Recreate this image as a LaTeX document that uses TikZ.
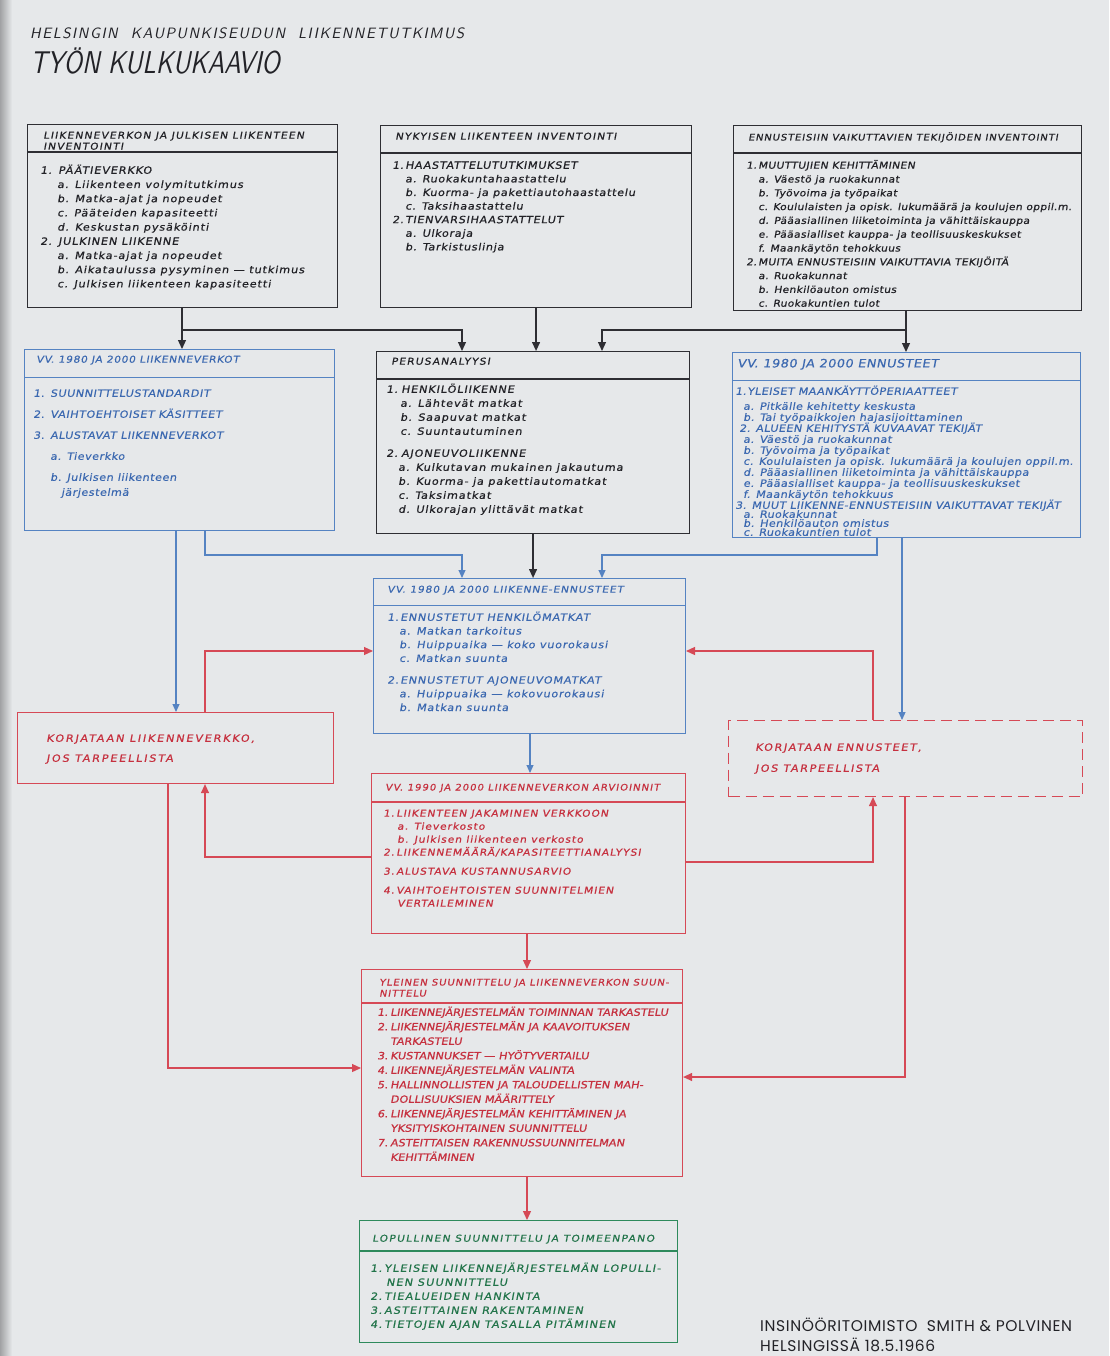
\documentclass[tikz,border=0pt]{standalone}
\usepackage{fontspec}
\setmainfont{DejaVu Sans}[FakeSlant=0.18, FakeStretch=1.12]
\newfontfamily\titlefont{lmsans10-regular.otf}[FakeSlant=0.2]
\newfontfamily\sigfont{Poppins}
\usetikzlibrary{arrows.meta}
\definecolor{paper}{HTML}{E6E8EA}
\definecolor{ink}{HTML}{2E2E33}
\definecolor{inkt}{HTML}{222227}
\definecolor{bl}{HTML}{5583C2}
\definecolor{blt}{HTML}{3B68B0}
\definecolor{rd}{HTML}{D64956}
\definecolor{rdt}{HTML}{C6303F}
\definecolor{gr}{HTML}{2E8A5C}
\definecolor{grt}{HTML}{22744A}
\newcommand\F[4]{\fontsize{#1}{#2}\selectfont\addfontfeatures{LetterSpace=#3, FakeBold=#4}\lineskiplimit=-20pt\lineskip=0pt}
\newcommand\NB[2]{\makebox[#1pt][l]{#2}}
\newcommand\IN[1]{\hspace*{#1pt}}
\newcommand\ST{\rule{0pt}{1em}}
\begin{document}
\begin{tikzpicture}[x=1pt,y=-1pt,
  box/.style={draw, line width=1.1pt, anchor=north west, inner sep=0pt},
  txt/.style={anchor=north west, inner sep=0pt, align=left},
  kline/.style={draw=ink, line width=1.2pt},
  bline/.style={draw=bl, line width=1.1pt},
  rline/.style={draw=rd, line width=1.2pt},
  karrow/.style={-{Triangle[length=9pt,width=8pt]}},
  barrow/.style={-{Triangle[length=8pt,width=7pt]}},
  rarrow/.style={-{Triangle[length=9pt,width=8pt]}}]
\useasboundingbox (0,0) rectangle (1109,1356);
\fill[paper] (0,0) rectangle (1109,1356);
\shade[left color=black!30!paper, right color=paper] (0,0) rectangle (12,1356);

% title
\node[txt, text=inkt, font=\titlefont\fontsize{15}{15}\selectfont\addfontfeatures{LetterSpace=10}] (T1) at (30,23) {\ST HELSINGIN\ \ KAUPUNKISEUDUN\ \ LIIKENNETUTKIMUS};
\node[txt, text=inkt, font=\titlefont\fontsize{31.5}{31.5}\selectfont\addfontfeatures{FakeStretch=0.79}] (T2) at (30,42) {\ST TYÖN KULKUKAAVIO};

% boxes
\node[box, draw=ink, minimum width=310pt, minimum height=183pt] (A) at (27,124) {};
\node[box, draw=ink, minimum width=311pt, minimum height=182pt] (B) at (380,125) {};
\node[box, draw=ink, minimum width=348pt, minimum height=185pt] (C) at (733,125) {};
\node[box, draw=bl, line width=1pt, minimum width=310pt, minimum height=181pt] (D) at (24,349) {};
\node[box, draw=ink, minimum width=313pt, minimum height=182pt] (E) at (376,351) {};
\node[box, draw=bl, line width=1pt, minimum width=348pt, minimum height=185pt] (F) at (732,352) {};
\node[box, draw=bl, line width=1pt, minimum width=312pt, minimum height=155pt] (G) at (373,578) {};
\node[box, draw=rd, minimum width=316pt, minimum height=71pt] (H) at (17,712) {};
\node[box, draw=rd, dash pattern=on 11pt off 6pt, minimum width=354pt, minimum height=76pt] (I) at (728,720) {};
\node[box, draw=rd, minimum width=314pt, minimum height=160pt] (J) at (371,773) {};
\node[box, draw=rd, minimum width=321pt, minimum height=207pt] (K) at (361,969) {};
\node[box, draw=gr, minimum width=318pt, minimum height=122pt] (L) at (359,1220) {};

% header separators
\draw[ink, line width=1.1pt] (27,152) -- (337,152);
\draw[ink, line width=1.1pt] (380,153) -- (691,153);
\draw[ink, line width=1.1pt] (733,153) -- (1081,153);
\draw[bl, line width=1pt] (24,377) -- (334,377);
\draw[ink, line width=1.1pt] (376,379) -- (689,379);
\draw[bl, line width=1pt] (732,380) -- (1080,380);
\draw[bl, line width=1pt] (373,605) -- (685,605);
\draw[rd, line width=1.1pt] (371,802) -- (685,802);
\draw[rd, line width=1.1pt] (361,1003) -- (682,1003);
\draw[gr, line width=1.1pt] (359,1251) -- (677,1251);

% box A
\node[txt, text=inkt, font=\F{9.5}{11}{12}{0.6}] (Ah) at (43,129) {\ST LIIKENNEVERKON JA JULKISEN LIIKENTEEN\\INVENTOINTI};
\node[txt, text=inkt, font=\F{10}{14.2}{9}{0.7}] (Ab) at (40,163.6) {\ST\NB{18}{1.}PÄÄTIEVERKKO\\
\IN{17}a. Liikenteen volymitutkimus\\
\IN{17}b. Matka-ajat ja nopeudet\\
\IN{17}c. Pääteiden kapasiteetti\\
\IN{17}d. Keskustan pysäköinti\\
\NB{18}{2.}JULKINEN LIIKENNE\\
\IN{17}a. Matka-ajat ja nopeudet\\
\IN{17}b. Aikataulussa pysyminen — tutkimus\\
\IN{17}c. Julkisen liikenteen kapasiteetti};

% box B
\node[txt, text=inkt, font=\F{9.5}{11}{12}{0.6}] (Bh) at (395,130) {\ST NYKYISEN LIIKENTEEN INVENTOINTI};
\node[txt, text=inkt, font=\F{10}{13.6}{7}{0.7}] (Bb) at (392,158.6) {\ST\NB{13}{1.}HAASTATTELUTUTKIMUKSET\\
\IN{13}a. Ruokakuntahaastattelu\\
\IN{13}b. Kuorma- ja pakettiautohaastattelu\\
\IN{13}c. Taksihaastattelu\\
\NB{13}{2.}TIENVARSIHAASTATTELUT\\
\IN{13}a. Ulkoraja\\
\IN{13}b. Tarkistuslinja};

% box C
\node[txt, text=inkt, font=\F{9}{11}{9}{0.6}] (Ch) at (748,131.3) {\ST ENNUSTEISIIN VAIKUTTAVIEN TEKIJÖIDEN INVENTOINTI};
\node[txt, text=inkt, font=\F{9.5}{13.8}{4}{0.7}] (Cb) at (746,159) {\ST\NB{12}{1.}MUUTTUJIEN KEHITTÄMINEN\\
\IN{12}a. Väestö ja ruokakunnat\\
\IN{12}b. Työvoima ja työpaikat\\
\IN{12}c. Koululaisten ja opisk. lukumäärä ja koulujen oppil.m.\\
\IN{12}d. Pääasiallinen liiketoiminta ja vähittäiskauppa\\
\IN{12}e. Pääasialliset kauppa- ja teollisuuskeskukset\\
\IN{12}f. Maankäytön tehokkuus\\
\NB{12}{2.}MUITA ENNUSTEISIIN VAIKUTTAVIA TEKIJÖITÄ\\
\IN{12}a. Ruokakunnat\\
\IN{12}b. Henkilöauton omistus\\
\IN{12}c. Ruokakuntien tulot};

% box D
\node[txt, text=blt, font=\F{9.5}{11}{7}{0.3}] (Dh) at (36,353) {\ST VV. 1980 JA 2000 LIIKENNEVERKOT};
\node[txt, text=blt, font=\F{10}{21}{5}{0.3}] (Db) at (33,386.6) {\ST\NB{17}{1.}SUUNNITTELUSTANDARDIT\\
\NB{17}{2.}VAIHTOEHTOISET KÄSITTEET\\
\NB{17}{3.}ALUSTAVAT LIIKENNEVERKOT\\
\IN{17}a. Tieverkko\\
\IN{17}b. Julkisen liikenteen\\[-6pt]
\IN{28}järjestelmä};

% box E
\node[txt, text=inkt, font=\F{9.5}{11}{12}{0.6}] (Eh) at (391,355) {\ST PERUSANALYYSI};
\node[txt, text=inkt, font=\F{10}{14}{9}{0.7}] (Eb) at (386,382.6) {\ST\NB{15}{1.}HENKILÖLIIKENNE\\
\IN{14}a. Lähtevät matkat\\
\IN{14}b. Saapuvat matkat\\
\IN{14}c. Suuntautuminen\\[8pt]
\NB{15}{2.}AJONEUVOLIIKENNE\\
\IN{12}a. Kulkutavan mukainen jakautuma\\
\IN{12}b. Kuorma- ja pakettiautomatkat\\
\IN{12}c. Taksimatkat\\
\IN{12}d. Ulkorajan ylittävät matkat};

% box F
\node[txt, text=blt, font=\F{11.5}{12}{4}{0.3}] (Fh) at (737,355.7) {\ST VV. 1980 JA 2000 ENNUSTEET};
\node[txt, text=blt, font=\F{10}{11}{4}{0.3}] (Fb) at (735,384.6) {\ST\NB{12}{1.}YLEISET MAANKÄYTTÖPERIAATTEET\\[4pt]
\IN{8}a. Pitkälle kehitetty keskusta\\
\IN{8}b. Tai työpaikkojen hajasijoittaminen\\
\IN{4}2. ALUEEN KEHITYSTÄ KUVAAVAT TEKIJÄT\\
\IN{8}a. Väestö ja ruokakunnat\\
\IN{8}b. Työvoima ja työpaikat\\
\IN{8}c. Koululaisten ja opisk. lukumäärä ja koulujen oppil.m.\\
\IN{8}d. Pääasiallinen liiketoiminta ja vähittäiskauppa\\
\IN{8}e. Pääasialliset kauppa- ja teollisuuskeskukset\\
\IN{8}f. Maankäytön tehokkuus\\
3. MUUT LIIKENNE-ENNUSTEISIIN VAIKUTTAVAT TEKIJÄT\\[-2pt]
\IN{8}a. Ruokakunnat\\[-2pt]
\IN{8}b. Henkilöauton omistus\\[-2pt]
\IN{8}c. Ruokakuntien tulot};

% box G
\node[txt, text=blt, font=\F{9.5}{11}{9}{0.3}] (Gh) at (387,583) {\ST VV. 1980 JA 2000 LIIKENNE-ENNUSTEET};
\node[txt, text=blt, font=\F{10}{13.7}{8}{0.3}] (Gb) at (387,610.6) {\ST\NB{13}{1.}ENNUSTETUT HENKILÖMATKAT\\
\IN{12}a. Matkan tarkoitus\\
\IN{12}b. Huippuaika — koko vuorokausi\\
\IN{12}c. Matkan suunta\\[8pt]
\NB{13}{2.}ENNUSTETUT AJONEUVOMATKAT\\
\IN{12}a. Huippuaika — kokovuorokausi\\
\IN{12}b. Matkan suunta};

% boxes H, I
\node[txt, text=rdt, font=\F{10}{20}{18}{0.7}] (Hb) at (46,731.6) {\ST KORJATAAN LIIKENNEVERKKO,\\JOS TARPEELLISTA};
\node[txt, text=rdt, font=\F{10}{21}{16}{0.7}] (Ib) at (755,740.6) {\ST KORJATAAN ENNUSTEET,\\JOS TARPEELLISTA};

% box J
\node[txt, text=rdt, font=\F{9}{11}{11}{0.6}] (Jh) at (385,781.3) {\ST VV. 1990 JA 2000 LIIKENNEVERKON ARVIOINNIT};
\node[txt, text=rdt, font=\F{9.5}{13}{10}{0.7}] (Jb) at (383,807) {\ST\NB{13}{1.}LIIKENTEEN JAKAMINEN VERKKOON\\
\IN{14}a. Tieverkosto\\
\IN{14}b. Julkisen liikenteen verkosto\\
\NB{13}{2.}LIIKENNEMÄÄRÄ/KAPASITEETTIANALYYSI\\[6pt]
\NB{13}{3.}ALUSTAVA KUSTANNUSARVIO\\[6pt]
\NB{13}{4.}VAIHTOEHTOISTEN SUUNNITELMIEN\\
\IN{14}VERTAILEMINEN};

% box K
\node[txt, text=rdt, font=\F{9}{11}{10}{0.7}] (Kh) at (379,976.3) {\ST YLEINEN SUUNNITTELU JA LIIKENNEVERKON SUUN-\\NITTELU};
\node[txt, text=rdt, font=\F{10}{14.5}{0.5}{0.9}] (Kb) at (377,1005.6) {\ST\NB{13}{1.}LIIKENNEJÄRJESTELMÄN TOIMINNAN TARKASTELU\\
\NB{13}{2.}LIIKENNEJÄRJESTELMÄN JA KAAVOITUKSEN\\
\IN{13}TARKASTELU\\
\NB{13}{3.}KUSTANNUKSET — HYÖTYVERTAILU\\
\NB{13}{4.}LIIKENNEJÄRJESTELMÄN VALINTA\\
\NB{13}{5.}HALLINNOLLISTEN JA TALOUDELLISTEN MAH-\\
\IN{13}DOLLISUUKSIEN MÄÄRITTELY\\
\NB{13}{6.}LIIKENNEJÄRJESTELMÄN KEHITTÄMINEN JA\\
\IN{13}YKSITYISKOHTAINEN SUUNNITTELU\\
\NB{13}{7.}ASTEITTAISEN RAKENNUSSUUNNITELMAN\\
\IN{13}KEHITTÄMINEN};

% box L
\node[txt, text=grt, font=\F{9.5}{11}{14}{0.5}] (Lh) at (372,1232) {\ST LOPULLINEN SUUNNITTELU JA TOIMEENPANO};
\node[txt, text=grt, font=\F{10}{14}{12}{0.6}] (Lb) at (370,1261.6) {\ST\NB{14}{1.}YLEISEN LIIKENNEJÄRJESTELMÄN LOPULLI-\\
\IN{16}NEN SUUNNITTELU\\
\NB{14}{2.}TIEALUEIDEN HANKINTA\\
\NB{14}{3.}ASTEITTAINEN RAKENTAMINEN\\
\NB{14}{4.}TIETOJEN AJAN TASALLA PITÄMINEN};

% signature
\node[txt, text=inkt, font=\sigfont\fontsize{15.5}{20}\selectfont\addfontfeatures{LetterSpace=4}] (S) at (760,1316) {\ST INSINÖÖRITOIMISTO\ \ SMITH \& POLVINEN\\HELSINGISSÄ 18.5.1966};

% connectors: top row
\coordinate (jA) at (182,330);
\coordinate (e1) at (462,330);
\coordinate (jC) at (906,330);
\coordinate (e2) at (602,330);
\draw[kline] (A.south -| jA) -- (jA);
\draw[kline, karrow] (jA) -- (D.north -| jA);
\draw[kline, karrow] (jA) -- (e1) -- (E.north -| e1);
\draw[kline, karrow] (B.south) -- (E.north -| B.south);
\draw[kline] (C.south -| jC) -- (jC);
\draw[kline, karrow] (jC) -- (F.north -| jC);
\draw[kline, karrow] (jC) -- (e2) -- (E.north -| e2);

% middle row to G, H, I
\coordinate (d1) at (205,555);
\coordinate (g1) at (462,555);
\coordinate (f1) at (877,555);
\coordinate (g2) at (602,555);
\coordinate (dh) at (176,600);
\coordinate (fi) at (902,600);
\draw[bline, barrow] (D.south -| d1) -- (d1) -- (g1) -- (G.north -| g1);
\draw[kline, karrow] (E.south) -- (G.north -| E.south);
\draw[bline, barrow] (F.south -| f1) -- (f1) -- (g2) -- (G.north -| g2);
\draw[bline, barrow] (D.south -| dh) -- (H.north -| dh);
\draw[bline, barrow] (F.south -| fi) -- (I.north -| fi);

% red feedback loops
\coordinate (hg) at (205,651);
\coordinate (ig) at (873,651);
\coordinate (gj) at (530,750);
\coordinate (jh) at (205,857);
\coordinate (ji) at (873,862);
\coordinate (hk) at (168,1068);
\coordinate (ik) at (905,1077);
\coordinate (jk) at (527,950);
\draw[rline, rarrow] (H.north -| hg) -- (hg) -- (G.west |- hg);
\draw[rline, rarrow] (I.north -| ig) -- (ig) -- (G.east |- ig);
\draw[bline, barrow] (G.south -| gj) -- (J.north -| gj);
\draw[rline, rarrow] (J.west |- jh) -- (jh) -- (H.south -| jh);
\draw[rline, rarrow] (J.east |- ji) -- (ji) -- (I.south -| ji);
\draw[rline, rarrow] (H.south -| hk) -- (hk) -- (K.west |- hk);
\draw[rline, rarrow] (I.south -| ik) -- (ik) -- (K.east |- ik);
\draw[rline, rarrow] (J.south -| jk) -- (K.north -| jk);
\draw[rline, rarrow] (K.south -| jk) -- (L.north -| jk);
\end{tikzpicture}
\end{document}
